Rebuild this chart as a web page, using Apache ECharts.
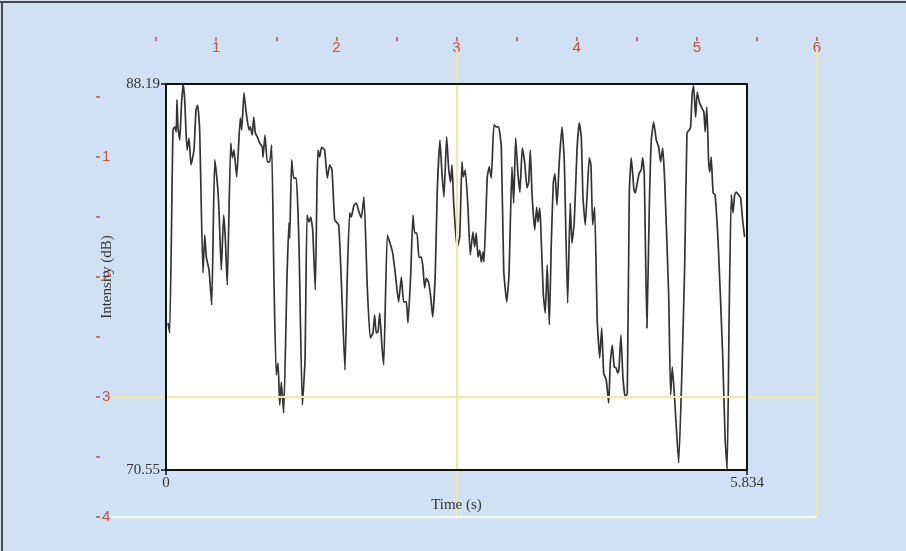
<!DOCTYPE html>
<html>
<head>
<meta charset="utf-8">
<script src="https://cdn.jsdelivr.net/npm/echarts@6/dist/echarts.min.js"></script>
<style>
  html, body { margin: 0; padding: 0; background: #cfe1f2; }
  #chart { width: 906px; height: 551px; }
</style>
</head>
<body>
<div id="chart"></div>
<script>
// Intensity contour: time (s) and intensity (dB)
const timeSec = [
  0.020, 0.037, 0.070, 0.090, 0.103, 0.110, 0.120, 0.138, 0.154, 0.171,
  0.188, 0.211, 0.231, 0.251, 0.281, 0.301, 0.318, 0.338, 0.371, 0.389,
  0.405, 0.432, 0.459, 0.489, 0.515, 0.532, 0.555, 0.579, 0.595, 0.615,
  0.650, 0.666, 0.683, 0.710, 0.746, 0.760, 0.783, 0.806, 0.833, 0.846,
  0.866, 0.881, 0.897, 0.917, 0.941, 0.967, 0.974, 0.994, 1.017, 1.041,
  1.061, 1.084, 1.107, 1.125, 1.142, 1.158, 1.182, 1.215, 1.235, 1.242,
  1.262, 1.282, 1.308, 1.335, 1.369, 1.396, 1.416, 1.436, 1.453, 1.473,
  1.499, 1.516, 1.526, 1.543, 1.563, 1.593, 1.620, 1.644, 1.667, 1.694,
  1.734, 1.760, 1.797, 1.820, 1.844, 1.860, 1.888, 1.911, 1.938, 1.961,
  1.988, 2.021, 2.051, 2.078, 2.095, 2.111, 2.129, 2.146, 2.169, 2.186,
  2.222, 2.249, 2.276, 2.302, 2.336, 2.363, 2.387, 2.413, 2.430, 2.457,
  2.480, 2.497, 2.520, 2.540, 2.563, 2.580, 2.597, 2.614, 2.638, 2.658,
  2.678, 2.704, 2.724, 2.751, 2.771, 2.791, 2.818, 2.838, 2.858, 2.872,
  2.889, 2.922, 2.949, 2.972, 2.985, 3.005, 3.032, 3.055, 3.082, 3.099,
  3.115, 3.133, 3.150, 3.166, 3.183, 3.193, 3.226, 3.246, 3.266, 3.293,
  3.316, 3.340, 3.367, 3.391, 3.421, 3.444, 3.474, 3.491, 3.511, 3.534,
  3.554, 3.577, 3.602, 3.625, 3.642, 3.658, 3.675, 3.702, 3.722, 3.735,
  3.752, 3.762, 3.788, 3.808, 3.828, 3.849, 3.869, 3.889, 3.906, 3.926,
  3.949, 3.976, 3.999, 4.033, 4.059, 4.076, 4.099, 4.127, 4.150, 4.170,
  4.187, 4.210, 4.230, 4.250, 4.267, 4.284, 4.304, 4.330, 4.355, 4.375,
  4.395, 4.421, 4.445, 4.461, 4.481, 4.501, 4.521, 4.535, 4.548, 4.568,
  4.588, 4.612, 4.632, 4.652, 4.672, 4.699, 4.712, 4.732, 4.752, 4.772,
  4.786, 4.802, 4.829, 4.853, 4.873, 4.897, 4.923, 4.947, 4.967, 4.987,
  5.007, 5.047, 5.067, 5.084, 5.108, 5.148, 5.181, 5.208, 5.231, 5.254,
  5.268, 5.284, 5.298, 5.318, 5.334, 5.358, 5.381, 5.401, 5.414, 5.431,
  5.448, 5.461, 5.474, 5.494, 5.514, 5.549, 5.589, 5.615, 5.635, 5.655,
  5.676, 5.693, 5.710, 5.726, 5.750, 5.770, 5.790, 5.810
];
const intensityDb = [
  77.27, 76.81, 86.09, 86.23, 86.00, 87.46, 86.23, 85.63, 87.14, 88.19,
  87.46, 85.17, 85.72, 84.49, 85.17, 87.00, 87.23, 86.09, 79.55, 81.29,
  80.28, 79.69, 78.09, 84.72, 83.67, 82.43, 79.69, 82.20, 81.20, 79.00,
  85.49, 84.81, 85.17, 83.94, 86.64, 86.09, 87.78, 86.86, 86.09, 86.23,
  85.86, 86.68, 85.95, 85.77, 85.49, 85.31, 84.85, 85.86, 84.63, 84.63,
  85.40, 79.23, 74.89, 75.44, 73.52, 74.57, 73.15, 79.37, 81.84, 81.15,
  84.72, 83.89, 83.89, 80.92, 73.52, 75.58, 82.20, 81.88, 82.11, 81.52,
  78.78, 83.48, 85.17, 84.85, 85.31, 85.17, 83.89, 84.49, 84.26, 81.98,
  81.75, 79.23, 75.12, 79.37, 82.30, 82.11, 82.66, 82.75, 82.34, 82.07,
  83.03, 78.91, 76.58, 76.81, 77.63, 76.81, 76.86, 77.72, 76.17, 75.35,
  81.29, 80.92, 80.47, 79.55, 78.23, 79.37, 78.23, 78.23, 77.27, 79.46,
  82.20, 81.38, 81.38, 80.28, 80.28, 79.83, 78.87, 79.32, 79.10, 78.46,
  77.54, 79.55, 83.35, 85.63, 84.12, 83.03, 85.77, 84.35, 83.71, 84.49,
  82.75, 80.70, 81.20, 84.63, 83.94, 84.26, 82.57, 80.38, 81.43, 80.74,
  81.38, 80.28, 80.60, 80.06, 80.51, 80.06, 83.94, 84.40, 83.89, 86.32,
  86.23, 86.23, 85.31, 79.69, 78.23, 79.46, 84.40, 82.75, 85.72, 84.12,
  83.25, 85.26, 84.58, 83.44, 83.71, 85.17, 83.21, 81.52, 82.57, 81.88,
  82.52, 81.84, 78.64, 77.72, 79.92, 77.18, 80.92, 83.67, 84.08, 82.66,
  84.63, 86.23, 84.72, 78.18, 82.75, 80.92, 81.84, 85.17, 86.41, 85.77,
  83.03, 81.75, 83.25, 84.81, 84.49, 81.75, 82.57, 77.40, 75.67, 77.04,
  74.98, 74.66, 73.61, 75.44, 76.26, 75.26, 75.21, 74.98, 75.12, 76.72,
  74.80, 73.84, 74.07, 83.21, 84.81, 83.35, 83.21, 83.67, 84.12, 84.26,
  84.81, 84.12, 77.04, 82.57, 85.63, 86.45, 85.63, 85.31, 84.63, 85.26,
  83.80, 78.64, 73.98, 75.26, 73.75, 70.87, 75.12, 79.83, 85.95, 86.09,
  86.23, 87.78, 88.10, 86.68, 87.82, 87.32, 87.09, 86.91, 86.00, 87.14,
  84.72, 84.17, 84.85, 83.21, 83.12, 80.47, 75.90, 71.92, 70.60, 77.72,
  83.12, 82.30, 83.12, 83.25, 83.12, 82.98, 81.98, 81.20
];

// Outer ruler: ticks every half unit, labels on whole units
const rulerXTicks = [0.5, 1, 1.5, 2, 2.5, 3, 3.5, 4, 4.5, 5, 5.5, 6];
const rulerXLabels = [1, 2, 3, 4, 5, 6];
const rulerYTicks = [0.5, 1, 1.5, 2, 2.5, 3, 3.5, 4];
const rulerYLabels = [1, 2, 3, 4];
// Guide lines on the ruler
const guideX = [3, 6];
const guideY = [3];
const edgeY = [4];

// Inner plot: only the range ends are labelled
const timeTicks = [0, 5.834];
const dbTicks = [70.55, 88.19];

const RED = '#c9513d';
const INK = '#333333';
const SERIF = '"Liberation Serif", "Times New Roman", serif';
const SANS = '"Liberation Sans", Arial, sans-serif';
const GUIDE = '#efeb9c';

const chart = echarts.init(document.getElementById('chart'), null, { renderer: 'canvas' });

const guideLines = [];
guideX.forEach(v => guideLines.push([{ coord: [v, 0.1] }, { coord: [v, 4] }]));
guideY.forEach(v => guideLines.push([{ coord: [0.13, v] }, { coord: [6, v] }]));
edgeY.forEach(v => guideLines.push([
  { coord: [0.13, v], lineStyle: { color: '#ffffff', width: 1.5 } },
  { coord: [6, v] }
]));

const boxLine = { show: true, onZero: false, lineStyle: { color: '#111', width: 2 } };

const option = {
  backgroundColor: '#cfe1f2',
  animation: false,
  graphic: [
    { type: 'rect', shape: { x: 0, y: 1, width: 906, height: 2 }, style: { fill: '#4a4a4a' }, silent: true },
    { type: 'rect', shape: { x: 1, y: 1, width: 2, height: 550 }, style: { fill: '#4a4a4a' }, silent: true }
  ],
  grid: [
    { left: 96, top: 37, width: 721, height: 480, show: false },
    { left: 166, top: 84, width: 581, height: 386, show: true, backgroundColor: '#ffffff', borderWidth: 0 }
  ],
  xAxis: [
    {
      gridIndex: 0, type: 'value', position: 'top', min: 0, max: 6, interval: 0.5,
      axisLine: { show: false, onZero: false },
      splitLine: { show: false },
      axisTick: { show: true, inside: true, length: 4, customValues: rulerXTicks, lineStyle: { color: RED, width: 1.5 } },
      axisLabel: { show: true, inside: true, margin: 3, customValues: rulerXLabels, color: RED, fontFamily: SANS, fontSize: 15 }
    },
    {
      gridIndex: 1, type: 'value', position: 'bottom', min: 0, max: 5.834, z: 5,
      axisLine: boxLine,
      splitLine: { show: false },
      axisTick: { show: true, length: 5, customValues: timeTicks, lineStyle: { color: '#111', width: 1.5 } },
      axisLabel: {
        show: true, margin: 6, customValues: timeTicks, color: INK, fontFamily: SERIF, fontSize: 15,
        formatter: v => (v === 0 ? '0' : v.toFixed(3))
      },
      name: 'Time (s)', nameLocation: 'middle', nameGap: 28,
      nameTextStyle: { color: INK, fontFamily: SERIF, fontSize: 15 }
    },
    {
      gridIndex: 1, type: 'value', position: 'top', min: 0, max: 5.834, z: 5,
      axisLine: boxLine,
      axisTick: { show: false }, axisLabel: { show: false }, splitLine: { show: false }
    }
  ],
  yAxis: [
    {
      gridIndex: 0, type: 'value', position: 'left', inverse: true, min: 0, max: 4, interval: 0.5,
      axisLine: { show: false, onZero: false },
      splitLine: { show: false },
      axisTick: { show: true, inside: true, length: 4, customValues: rulerYTicks, lineStyle: { color: RED, width: 1.5 } },
      axisLabel: { show: true, inside: true, margin: 6, customValues: rulerYLabels, color: RED, fontFamily: SANS, fontSize: 15 }
    },
    {
      gridIndex: 1, type: 'value', position: 'left', min: 70.55, max: 88.19, z: 5,
      axisLine: boxLine,
      splitLine: { show: false },
      axisTick: { show: true, length: 5, customValues: dbTicks, lineStyle: { color: '#111', width: 1.5 } },
      axisLabel: {
        show: true, margin: 6, customValues: dbTicks, color: INK, fontFamily: SERIF, fontSize: 15,
        formatter: v => v.toFixed(2)
      },
      name: 'Intensity (dB)', nameLocation: 'middle', nameRotate: 90, nameGap: 51,
      nameTextStyle: { color: INK, fontFamily: SERIF, fontSize: 15 }
    },
    {
      gridIndex: 1, type: 'value', position: 'right', min: 70.55, max: 88.19, z: 5,
      axisLine: boxLine,
      axisTick: { show: false }, axisLabel: { show: false }, splitLine: { show: false }
    }
  ],
  series: [
    {
      type: 'line', xAxisIndex: 0, yAxisIndex: 0, data: [], z: 2, silent: true,
      markLine: {
        silent: true, symbol: 'none', label: { show: false },
        lineStyle: { color: GUIDE, width: 2, type: 'solid' },
        data: guideLines
      }
    },
    {
      type: 'line', xAxisIndex: 1, yAxisIndex: 1, z: 4,
      data: timeSec.map((t, i) => [t, intensityDb[i]]),
      showSymbol: false, smooth: 0.15,
      lineStyle: { color: '#333333', width: 1.7 }
    }
  ]
};

chart.setOption(option);
</script>
</body>
</html>
